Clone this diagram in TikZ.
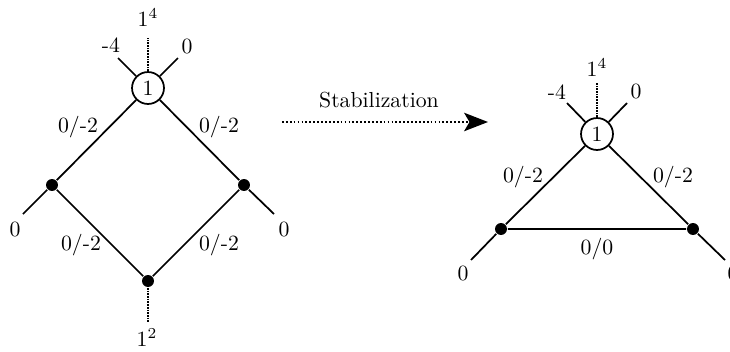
\documentclass[tikz,border=0pt]{standalone}
\usepackage{amsmath}
\usepackage{tikz}
\usetikzlibrary{arrows.meta}

\begin{document}
\begin{tikzpicture}[x=0.46pt, y=-0.46pt, line width=0.8pt,
    vert/.style={circle, draw, inner sep=0pt, minimum size=14.7pt},
    pt/.style={circle, fill, inner sep=0pt, minimum size=5.5pt},
    lbl/.style={inner sep=0pt},
    leg/.style={dash pattern=on 0.8pt off 0.45pt}]
  \useasboundingbox (0,0) rectangle (730,351);

  % before
  \node[vert] (v) at (148,88) {1};
  \node[pt] (a) at (52,185) {};
  \node[pt] (b) at (244,185) {};
  \node[pt] (c) at (148,281) {};
  \coordinate (v-t) at (148,38);
  \coordinate (v-l) at (118,58);
  \coordinate (v-r) at (178,58);
  \coordinate (a-s) at (23,214);
  \coordinate (b-s) at (274,214);
  \coordinate (c-s) at (148,322);
  \draw (v) -- (a) -- (c) -- (b) -- (v);
  \draw (v) -- (v-l);
  \draw (v) -- (v-r);
  \draw[leg] (v) -- (v-t);
  \draw (a) -- (a-s);
  \draw (b) -- (b-s);
  \draw[leg] (c) -- (c-s);
  \node[lbl] (v-tl) at (148,18) {$1^4$};
  \node[lbl] (v-ll) at (111,45) {-4};
  \node[lbl] (v-rl) at (187,46) {0};
  \node[lbl] (va) at (78,127) {0/-2};
  \node[lbl] (vb) at (219,127) {0/-2};
  \node[lbl] (ac) at (81,245) {0/-2};
  \node[lbl] (bc) at (219,245) {0/-2};
  \node[lbl] (a-sl) at (15,229) {0};
  \node[lbl] (b-sl) at (284,229) {0};
  \node[lbl] (c-sl) at (147,338) {$1^2$};

  % stabilization
  \coordinate (from) at (282,122);
  \coordinate (to) at (488,122);
  \draw[dash pattern=on 0.8pt off 1pt, -{Stealth[length=11pt,width=8.5pt,inset=2.5pt]}] (from) -- (to);
  \node[lbl] (st) at (379,100) {Stabilization};

  % after
  \node[vert] (w) at (597,134) {1};
  \node[pt] (p) at (501,229) {};
  \node[pt] (q) at (693,229) {};
  \coordinate (w-t) at (597,82);
  \coordinate (w-l) at (567,103);
  \coordinate (w-r) at (627,103);
  \coordinate (p-s) at (471,260);
  \coordinate (q-s) at (725,260);
  \draw (w) -- (p) -- (q) -- (w);
  \draw (w) -- (w-l);
  \draw (w) -- (w-r);
  \draw[leg] (w) -- (w-t);
  \draw (p) -- (p-s);
  \draw (q) -- (q-s);
  \node[lbl] (w-tl) at (597,68) {$1^4$};
  \node[lbl] (w-ll) at (557,92) {-4};
  \node[lbl] (w-rl) at (636,91) {0};
  \node[lbl] (wp) at (523,177) {0/-2};
  \node[lbl] (wq) at (673,177) {0/-2};
  \node[lbl] (pq) at (597,249) {0/0};
  \node[lbl] (p-sl) at (463,273) {0};
  \node[lbl] (q-sl) at (733,273) {0};
\end{tikzpicture}
\end{document}
